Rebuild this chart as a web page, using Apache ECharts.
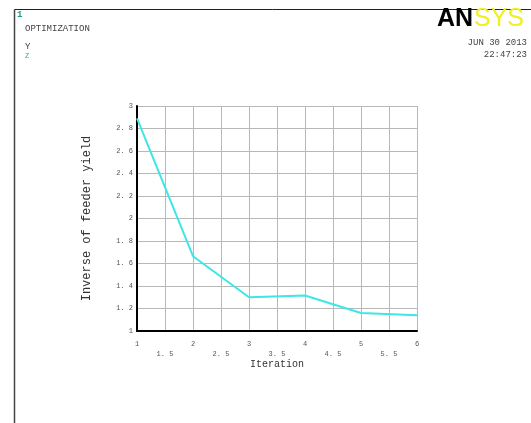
<!DOCTYPE html>
<html><head><meta charset="utf-8">
<script src="https://cdn.jsdelivr.net/npm/echarts@6/dist/echarts.min.js"></script>
<style>html,body{margin:0;padding:0;background:#fff}#c{width:531px;height:423px}</style>
</head><body><div id="c"></div>
<script>
const iterations = [1, 2, 3, 4, 5, 6];
const inverseYield = [2.89, 1.665, 1.30, 1.315, 1.16, 1.14];
const yTicks = [1, 1.2, 1.4, 1.6, 1.8, 2, 2.2, 2.4, 2.6, 2.8, 3];

const chart = echarts.init(document.getElementById('c'), null, {renderer: 'canvas'});
const mono = 'Liberation Mono';
chart.setOption({
  animation: false,
  backgroundColor: '#fff',
  grid: {left: 137, right: 114, top: 106, bottom: 92, containLabel: false},
  xAxis: {
    type: 'value', min: 1, max: 6, interval: 0.5,
    name: 'Iteration', nameLocation: 'middle', nameGap: 28, nameMoveOverlap: false,
    nameTextStyle: {fontFamily: mono, fontSize: 10, color: '#333'},
    axisLine: {show: true, onZero: false, lineStyle: {color: '#000', width: 2}},
    axisTick: {show: false},
    axisLabel: {
      fontFamily: mono, fontSize: 7, color: '#555', margin: 8, lineHeight: 10,
      formatter: v => Number.isInteger(v) ? String(v) : '\n' + v.toFixed(1).replace('.', '. ')
    },
    splitLine: {show: true, lineStyle: {color: '#b8b8b8', width: 1}}
  },
  yAxis: {
    type: 'value', min: 1, max: 3, interval: 0.2,
    name: 'Inverse of feeder yield', nameLocation: 'middle', nameGap: 44, nameMoveOverlap: false,
    nameTextStyle: {fontFamily: mono, fontSize: 12, color: '#333'},
    axisLine: {show: true, onZero: false, lineStyle: {color: '#000', width: 2}},
    axisTick: {show: false},
    axisLabel: {
      fontFamily: mono, fontSize: 7, color: '#555', margin: 4,
      formatter: v => {
        const t = yTicks.find(k => Math.abs(k - v) < 1e-6);
        return Number.isInteger(t) ? String(t) : t.toFixed(1).replace('.', '. ');
      }
    },
    splitLine: {show: true, lineStyle: {color: '#b8b8b8', width: 1}}
  },
  series: [{
    type: 'line',
    data: iterations.map((x, i) => [x, inverseYield[i]]),
    symbol: 'none',
    lineStyle: {color: '#3ee6e6', width: 2},
    z: 5
  }],
  graphic: [
    {type: 'line', shape: {x1: 14.5, y1: 9.5, x2: 531, y2: 9.5}, style: {stroke: '#222', lineWidth: 1}},
    {type: 'line', shape: {x1: 14.5, y1: 9.5, x2: 14.5, y2: 423}, style: {stroke: '#444', lineWidth: 1.5}},
    {type: 'text', left: 17, top: 10, style: {text: '1', fontFamily: mono, fontSize: 9, fontWeight: 'bold', fill: '#1a9a8a'}},
    {type: 'text', left: 25, top: 24, style: {text: 'OPTIMIZATION', fontFamily: mono, fontSize: 9, fill: '#444'}},
    {type: 'text', left: 25, top: 42, style: {text: 'Y', fontFamily: mono, fontSize: 9, fill: '#444'}},
    {type: 'text', left: 25, top: 53, style: {text: 'Z', fontFamily: mono, fontSize: 7, fill: '#2aa0b0'}},
    {type: 'text', left: 437, top: 7, style: {text: 'AN', fontFamily: 'Liberation Sans', fontSize: 25, fontWeight: 'bold', fill: '#000'}},
    {type: 'text', left: 474, top: 7, style: {text: 'SYS', fontFamily: 'Liberation Sans', fontSize: 25, fill: '#f0f020'}},
    {type: 'text', right: 4, top: 38, style: {text: 'JUN 30 2013', fontFamily: mono, fontSize: 9, fill: '#444', align: 'right'}},
    {type: 'text', right: 4, top: 50, style: {text: '22:47:23', fontFamily: mono, fontSize: 9, fill: '#444', align: 'right'}}
  ]
});
</script></body></html>
